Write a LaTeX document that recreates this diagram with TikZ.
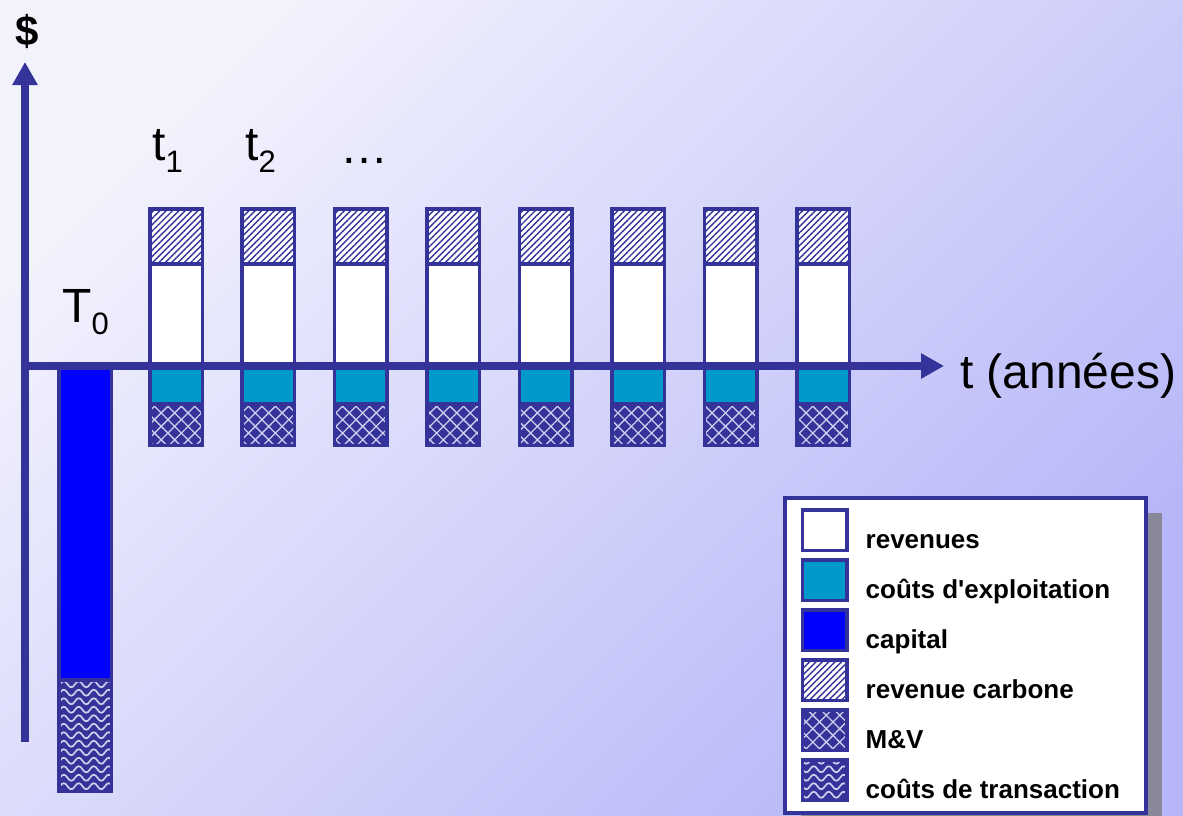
\documentclass[tikz,border=0pt]{standalone}
\usepackage{fontspec}
\setmainfont{Liberation Sans}
\usepackage{tikz}
\usetikzlibrary{arrows.meta,positioning}
\usetikzlibrary{patterns,patterns.meta}
\definecolor{navy}{RGB}{51,51,153}
\definecolor{opcyan}{RGB}{0,153,204}
\definecolor{capblue}{RGB}{0,0,255}
\definecolor{hatchlav}{RGB}{205,205,238}
\definecolor{bgtop}{RGB}{242,242,253}
\definecolor{bgbot}{RGB}{182,182,248}
\definecolor{shadowgray}{RGB}{136,136,152}
\pgfdeclarepatternformonly{waves}{\pgfpoint{-1pt}{-1pt}}{\pgfpoint{16pt}{9.5pt}}{\pgfpoint{15pt}{8.5pt}}{
  \pgfsetlinewidth{1.7pt}
  \pgfpathmoveto{\pgfpoint{0pt}{4.25pt}}
  \pgfpathcurveto{\pgfpoint{2.5pt}{8.25pt}}{\pgfpoint{5pt}{8.25pt}}{\pgfpoint{7.5pt}{4.25pt}}
  \pgfpathcurveto{\pgfpoint{10pt}{0.25pt}}{\pgfpoint{12.5pt}{0.25pt}}{\pgfpoint{15pt}{4.25pt}}
  \pgfusepath{stroke}}
\tikzset{
axisline/.style={line width=8pt, draw=navy, -{Triangle[width=24pt,length=23pt]}},
barframe/.style={draw=navy, line width=3.5pt},
revfill/.style={barframe, fill=white},
opfill/.style={barframe, fill=opcyan},
capfill/.style={barframe, fill=capblue},
carbfill/.style={barframe, preaction={fill=white}, preaction={pattern={Lines[angle=45,distance=4.5pt,line width=1.4pt]}, pattern color=navy}},
mvfill/.style={barframe, preaction={fill=navy}, preaction={pattern={Hatch[angle=45,distance=9.5pt,line width=1.3pt]}, pattern color=hatchlav}},
tcfill/.style={barframe, preaction={fill=navy}, preaction={pattern=waves, pattern color=hatchlav}},
swatch/.style={minimum width=44.5pt, minimum height=40.5pt, inner sep=0pt},
legtext/.style={anchor=base west, font=\fontsize{26}{26}\selectfont\bfseries, inner sep=0pt},
biglabel/.style={anchor=base west, font=\fontsize{48}{48}\selectfont, inner sep=0pt}
      }
\newcommand{\subtxt}[1]{\raisebox{-12pt}{\fontsize{31}{31}\selectfont #1}}

\begin{document}
\begin{tikzpicture}[x=1pt,y=-1pt]
                \useasboundingbox (0,0) rectangle (1183,816);
                \shade[top color=bgtop, bottom color=bgbot, shading angle=45] (0,0) rectangle (1183,816);
                \foreach \i in {0,...,7}{
                    \pgfmathsetmacro{\xa}{149.75+92.45*\i}
                    \pgfmathsetmacro{\xb}{\xa+52.5}
                    \draw[carbfill] (\xa,208.75) rectangle (\xb,264);
                    \draw[revfill] (\xa,264) rectangle (\xb,366);
                    \draw[mvfill] (\xa,404) rectangle (\xb,445.25);
                    \draw[opfill] (\xa,366) rectangle (\xb,404);
                }
                \draw[capfill] (58.75,366) rectangle (111.25,680);
                \draw[tcfill] (58.75,680) rectangle (111.25,791.25);
                \coordinate (origin) at (25,366);
                \coordinate (ybot) at (25,742);
                \coordinate (ytop) at (25,62);
                \coordinate (xend) at (944,366);
                \draw[axisline] (ybot) -- (ytop);
                \draw[axisline] (origin) -- (xend);
                \node[font=\fontsize{42}{42}\selectfont\bfseries] (dollar) at (27,31) {\$};
                \node[biglabel] (tzero) at (62,322) {T\subtxt{0}};
                \node[biglabel] (tone) at (152,160) {t\subtxt{1}};
                \node[biglabel] (ttwo) at (245,160) {t\subtxt{2}};
                \node[biglabel] (tdots) at (340,163) {\dots};
                \node[biglabel] (taxis) at (960,388) {t (années)};
                \fill[shadowgray] (801,513) rectangle (1162,830);
                \draw[barframe, fill=white] (785,498) rectangle (1146,813);
                \node[swatch, revfill] (sw1) at (824.5,530) {};
                \node[swatch, opfill, below=6pt of sw1] (sw2) {};
                \node[swatch, capfill, below=6pt of sw2] (sw3) {};
                \node[swatch, carbfill, below=6pt of sw3] (sw4) {};
                \node[swatch, mvfill, below=6pt of sw4] (sw5) {};
                \node[swatch, tcfill, below=6pt of sw5] (sw6) {};
                \node[right=17pt of sw1.south east, legtext, yshift=4pt] (lt1) {revenues};
                \node[right=17pt of sw2.south east, legtext, yshift=4pt] (lt2) {coûts d\textquotesingle exploitation};
                \node[right=17pt of sw3.south east, legtext, yshift=4pt] (lt3) {capital};
                \node[right=17pt of sw4.south east, legtext, yshift=4pt] (lt4) {revenue carbone};
                \node[right=17pt of sw5.south east, legtext, yshift=4pt] (lt5) {M\&V};
                \node[right=17pt of sw6.south east, legtext, yshift=4pt] (lt6) {coûts de transaction};
            \end{tikzpicture}
\end{document}
